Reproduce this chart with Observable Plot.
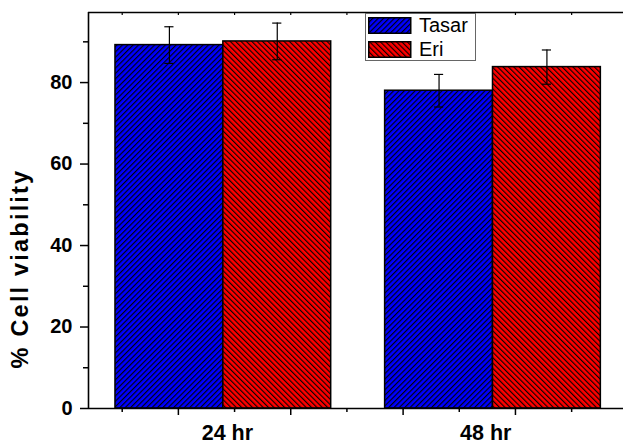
<!DOCTYPE html>
<html>
<head>
<meta charset="utf-8">
<script src="https://cdn.jsdelivr.net/npm/d3@7"></script>
<script src="https://cdn.jsdelivr.net/npm/@observablehq/plot@0.6"></script>
<style>
  html, body { margin: 0; padding: 0; background: #fff; overflow: hidden; }
  #wrap { position: relative; width: 623px; height: 444px; font-family: "Liberation Sans", Arial, sans-serif; }
  #legend { position: absolute; left: 365px; top: 13px; width: 109px; height: 46px;
            border: 1.5px solid #666; background: #fff; box-sizing: content-box; }
  .row { position: absolute; left: 2px; height: 17px; display: flex; align-items: center; }
  .row svg { display: block; }
  .row span { margin-left: 7px; font-size: 20px; color: #000; line-height: 17px; }
</style>
</head>
<body>
<div id="wrap"></div>
<script>
// ---- data ----
const groups = ["24 hr", "48 hr"];
const series = ["Tasar", "Eri"];
const tasarValues = [89.2, 78.0];
const eriValues = [90.1, 83.8];
const tasarErrors = [4.5, 4.0];
const eriErrors = [4.5, 4.2];
const yMajorTicks = [0, 20, 40, 60, 80];
const yMinorTicks = [10, 30, 50, 70, 90];
const xMajorTicks = [0.8333, 1.25, 1.6667, 2.0833];
const xMinorTicks = [0.625, 1.0417, 1.4583, 1.875, 2.2917];
const groupLabelPos = [1.015, 1.973];

// ---- table ----
const barW = 0.4;
const rows = [];
groups.forEach((g, i) => {
  rows.push({group: g, series: "Tasar", pos: i + 1, value: tasarValues[i], err: tasarErrors[i]});
  rows.push({group: g, series: "Eri", pos: i + 1, value: eriValues[i], err: eriErrors[i]});
});
const x1 = d => d.series === "Tasar" ? d.pos - barW : d.pos;
const x2 = d => d.series === "Tasar" ? d.pos : d.pos + barW;
const xc = d => (x1(d) + x2(d)) / 2;
const cap = 0.017;
const yTop = 97.2;

const fillFor = {Tasar: "url(#hatch-Tasar)", Eri: "url(#hatch-Eri)"};

const chart = Plot.plot({
  width: 623,
  height: 444,
  marginTop: 12,
  marginBottom: 36,
  marginLeft: 88,
  marginRight: 0,
  style: {fontFamily: "'Liberation Sans', Arial, sans-serif", fontSize: "20px", color: "#000", background: "#fff"},
  x: {domain: [0.5, 2.484]},
  y: {domain: [0, yTop]},
  marks: [
    ...series.map(s => Plot.rectY(rows.filter(d => d.series === s), {
      x1, x2, y1: 0, y2: "value", fill: fillFor[s], stroke: "#000", strokeWidth: 1.5
    })),
    Plot.ruleX(rows, {x: xc, y1: d => d.value - d.err, y2: d => d.value + d.err, stroke: "#000", strokeWidth: 1.2}),
    Plot.ruleY(rows, {y: d => d.value + d.err, x1: d => xc(d) - cap, x2: d => xc(d) + cap, stroke: "#000", strokeWidth: 1.2}),
    Plot.ruleY(rows, {y: d => d.value - d.err, x1: d => xc(d) - cap, x2: d => xc(d) + cap, stroke: "#000", strokeWidth: 1.2}),
    // frame
    Plot.ruleX([0.5], {stroke: "#000", strokeWidth: 1.6}),
    Plot.ruleY([0], {stroke: "#000", strokeWidth: 1.6}),
    Plot.ruleY([yTop], {stroke: "#000", strokeWidth: 1.6}),
    // top inward ticks
    Plot.tickX([...xMajorTicks, ...xMinorTicks], {x: d => d, insetBottom: 393, stroke: "#000", strokeWidth: 1.2}),
    // axes
    Plot.axisY(yMajorTicks, {tickSize: 8, tickPadding: 8, fontWeight: "bold", fontSize: 20, label: null, strokeWidth: 1.5}),
    Plot.axisY(yMinorTicks, {tickSize: 5, tickFormat: () => "", label: null, strokeWidth: 1.5}),
    Plot.axisX(xMajorTicks, {tickSize: 7, tickFormat: () => "", label: null, strokeWidth: 1.5}),
    Plot.axisX(xMinorTicks, {tickSize: 4, tickFormat: () => "", label: null, strokeWidth: 1.5}),
    Plot.axisX(groupLabelPos, {tickSize: 0, tickPadding: 16, tickFormat: (d, i) => groups[i], fontWeight: "bold", fontSize: 21.5, label: null}),
    Plot.text(["% Cell viability"], {frameAnchor: "left", textAnchor: "middle", rotate: -90, dx: -68, dy: 58, fontWeight: "bold", fontSize: 23.5, fill: "#000", className: "ylab"})
  ]
});

function addPatterns(svg) {
  const defs = d3.select(svg).insert("defs", ":first-child");
  const specs = [["Tasar", "#0000ff", 45], ["Eri", "#ff0000", -45]];
  const s = 3.8;
  for (const [name, color, angle] of specs) {
    const p = defs.append("pattern")
      .attr("id", "hatch-" + name)
      .attr("patternUnits", "userSpaceOnUse")
      .attr("width", s).attr("height", s)
      .attr("patternTransform", `rotate(${angle})`);
    p.append("rect").attr("width", s).attr("height", s).attr("fill", color);
    p.append("line").attr("x1", 0.6).attr("y1", 0).attr("x2", 0.6).attr("y2", s)
      .attr("stroke", "#000").attr("stroke-width", 1.1);
  }
}
addPatterns(chart);
d3.select(chart).selectAll(".ylab text").attr("letter-spacing", "2.2px");

const wrap = document.getElementById("wrap");
wrap.appendChild(chart);

// legend
const legend = document.createElement("div");
legend.id = "legend";
series.forEach((s, i) => {
  const row = document.createElement("div");
  row.className = "row";
  row.style.top = (i === 0 ? 3 : 27) + "px";
  const sw = d3.create("svg").attr("width", 44).attr("height", 17);
  sw.append("rect").attr("x", 0.75).attr("y", 0.75).attr("width", 42).attr("height", 15.5)
    .attr("fill", fillFor[s]).attr("stroke", "#000").attr("stroke-width", 1.5);
  row.appendChild(sw.node());
  const t = document.createElement("span");
  t.textContent = s;
  row.appendChild(t);
  legend.appendChild(row);
});
wrap.appendChild(legend);
</script>
</body>
</html>
